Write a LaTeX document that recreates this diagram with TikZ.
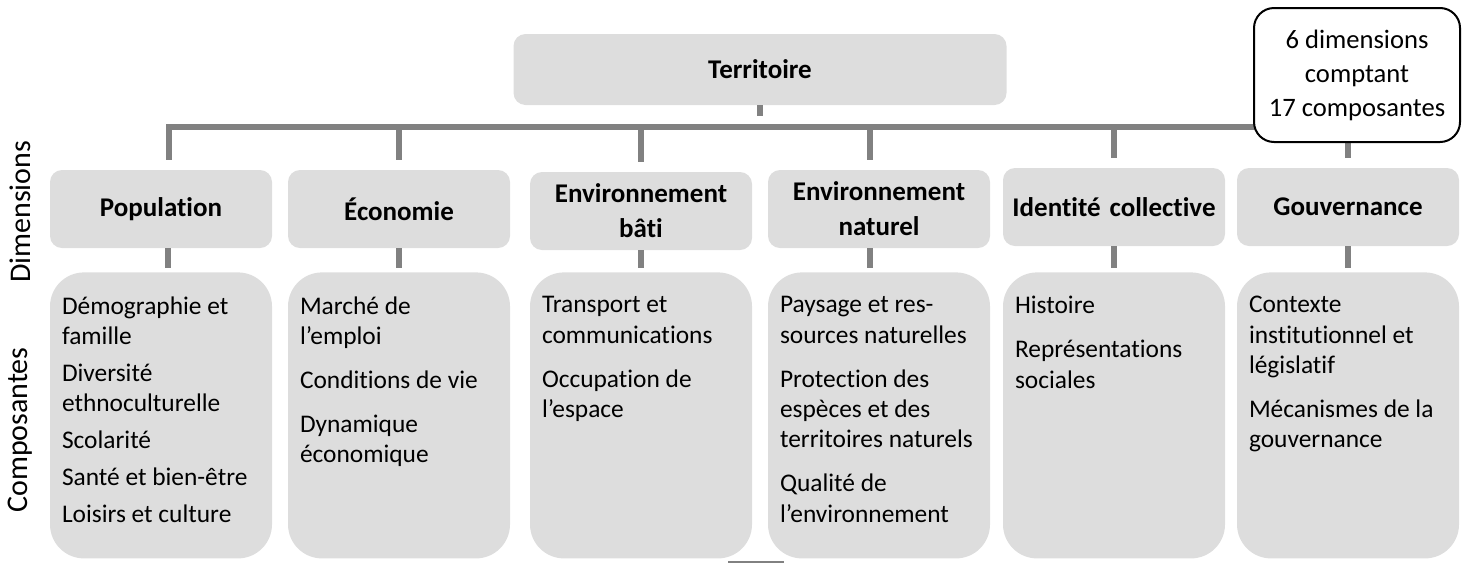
\documentclass[tikz,border=0pt]{standalone}
\usepackage{fontspec}
\setmainfont{Carlito}[Ligatures={NoCommon}]
\usepackage{xcolor}
\usepackage{tikz}
\usetikzlibrary{positioning}

\definecolor{boxgray}{HTML}{DDDDDD}
\definecolor{linegray}{HTML}{818181}

% text of a component box, kept at the top of the box
\newcommand{\comptext}[1]{\parbox[t][119pt][t]{99pt}{\raggedright #1}}
\newcommand{\itemgap}{\\[6.75pt]}
\newcommand{\smallgap}{\\[3.25pt]}

\begin{document}
\begin{tikzpicture}[x=0.5pt, y=-0.5pt,
	topbox/.style={fill=boxgray, rounded corners=6pt, minimum width=246.5pt, minimum height=35.5pt, font=\bfseries\fontsize{13.5}{16}\selectfont},
	dimbox/.style={fill=boxgray, rounded corners=6pt, minimum width=111pt, minimum height=39pt, text width=105pt, align=center, inner sep=0pt, font=\bfseries\fontsize{13.5}{17.5}\selectfont},
	compbox/.style={fill=boxgray, rounded corners=17pt, anchor=north, inner xsep=6pt, inner ysep=12pt, font=\fontsize{12.7}{15.2}\selectfont},
	notebox/.style={draw=black, line width=1pt, fill=white, rounded corners=10pt, minimum width=103pt, minimum height=67pt, align=center, font=\fontsize{13.3}{17}\selectfont},
	sidelabel/.style={rotate=90, font=\fontsize{15}{18}\selectfont},
	conn/.style={draw=linegray, line width=3pt},
	stub/.style={draw=linegray, line width=2.75pt}]
		
		\useasboundingbox (0,0) rectangle (1465,563);
		
		% Side labels
		\node[sidelabel] (dimlabel) at (20,212) {Dimensions};
		\node[sidelabel] (complabel) at (20,430) {Composantes};
		
		% Top node
		\node[topbox] (terr) at (760,69.5) {Territoire};
		
		% Dimensions
		\node[dimbox] (pop) at (161,209) {Population};
		\node[dimbox] (eco) at (399,209) {Économie};
		\node[dimbox] (bati) at (641,211) {Environnement\\bâti};
		\node[dimbox] (nat) at (879,209) {Environnement\\naturel};
		\node[dimbox] (ident) at (1114,207) {Identité collective};
		\node[dimbox] (gouv) at (1348,207) {Gouvernance};
		
		% Components
		\node[compbox] (popc) at (161,272) {\comptext{Démographie et\\famille\smallgap
				Diversité\\ethnoculturelle\smallgap
				Scolarité\smallgap
				Santé et bien-être\smallgap
				Loisirs et culture}};
		\node[compbox] (ecoc) at (399,272) {\comptext{Marché de\\l’emploi\itemgap
				Conditions de vie\itemgap
				Dynamique\\économique}};
		\node[compbox] (batic) at (641,272) {\comptext{Transport et\\communications\itemgap
				Occupation de\\l’espace}};
		\node[compbox] (natc) at (879,272) {\comptext{Paysage et res-\\sources naturelles\itemgap
				Protection des\\espèces et des\\territoires naturels\itemgap
				Qualité de\\l’environnement}};
		\node[compbox] (identc) at (1114,272) {\comptext{Histoire\itemgap
				Représentations\\sociales}};
		\node[compbox] (gouvc) at (1348,272) {\comptext{Contexte\\institutionnel et\\législatif\itemgap
				Mécanismes de la\\gouvernance}};
		
		% Tree lines
		\coordinate (bar) at (760,127);
		\draw[conn] (terr.south) -- ++(0,11);
		\draw[conn] ([xshift=4pt, yshift=5pt]pop.north) |- (bar) -| ([yshift=5pt]gouv.north);
		\draw[conn] (bar -| eco) -- ([yshift=5pt]eco.north);
		\draw[conn] (bar -| bati) -- ([yshift=5pt]bati.north);
		\draw[conn] ([xshift=-4.5pt]bar -| nat) -- ([xshift=-4.5pt, yshift=5pt]nat.north);
		\draw[conn] (bar -| ident) -- ([yshift=5pt]ident.north);
		
		% Dimension to components
		\draw[stub] ([xshift=3.5pt]pop.south) -- ([xshift=3.5pt, yshift=2pt]popc.north);
		\draw[stub] (eco.south) -- ([yshift=2pt]ecoc.north);
		\draw[stub] (bati.south) -- ([yshift=2pt]batic.north);
		\draw[stub] ([xshift=-4.5pt]nat.south) -- ([xshift=-4.5pt, yshift=2pt]natc.north);
		\draw[stub] (ident.south) -- ([yshift=2pt]identc.north);
		\draw[stub] (gouv.south) -- ([yshift=2pt]gouvc.north);
		
		% Count note
		\node[notebox] (note) at (1357,75) {6 dimensions\\comptant\\17 composantes};
		
		% small rule under the boxes
		\draw[linegray, line width=1pt] (728,562) -- (784,562);
		
	\end{tikzpicture}
\end{document}
